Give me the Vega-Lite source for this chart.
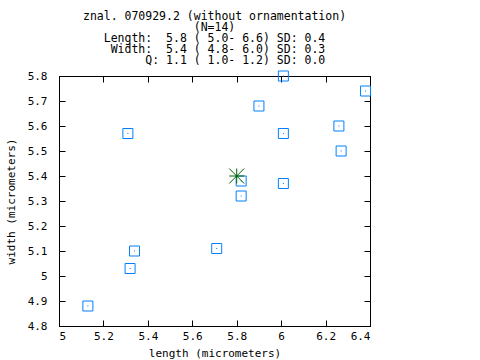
{
  "$schema": "https://vega.github.io/schema/vega-lite/v6.json",
  "width": 311,
  "height": 250,
  "autosize": {"type": "none"},
  "padding": {"left": 59, "top": 76, "right": 110, "bottom": 34},
  "background": "white",
  "title": {
    "text": [
      "znal. 070929.2 (without ornamentation)",
      "(N=14)",
      "Length:\u00a0\u00a05.8\u00a0(\u00a05.0-\u00a06.6)\u00a0SD:\u00a00.4",
      "\u200b\u00a0Width:\u00a0\u00a05.4\u00a0(\u00a04.8-\u00a06.0)\u00a0SD:\u00a00.3",
      "\u200b\u00a0\u00a0\u00a0\u00a0\u00a0\u00a0Q:\u00a01.1\u00a0(\u00a01.0-\u00a01.2)\u00a0SD:\u00a00.0"
    ],
    "font": "DejaVu Sans Mono",
    "fontSize": 11.5,
    "fontWeight": "normal",
    "lineHeight": 11,
    "anchor": "middle",
    "color": "black",
    "offset": 3
  },
  "config": {
    "view": {"stroke": "black", "strokeWidth": 1},
    "axis": {
      "labelFont": "DejaVu Sans Mono",
      "labelFontSize": 11,
      "labelColor": "black",
      "titleFont": "DejaVu Sans Mono",
      "titleFontSize": 11,
      "titleFontWeight": "normal",
      "titleColor": "black",
      "domainColor": "black",
      "tickColor": "black",
      "grid": false,
      "tickSize": -6,
      "format": "~g"
    }
  },
  "datasets": {
    "pts": [
      {"length": 6.01, "width": 5.80},
      {"length": 6.38, "width": 5.74},
      {"length": 5.90, "width": 5.68},
      {"length": 5.31, "width": 5.57},
      {"length": 6.01, "width": 5.57},
      {"length": 6.26, "width": 5.60},
      {"length": 6.27, "width": 5.50},
      {"length": 5.82, "width": 5.38},
      {"length": 6.01, "width": 5.37},
      {"length": 5.82, "width": 5.32},
      {"length": 5.34, "width": 5.10},
      {"length": 5.32, "width": 5.03},
      {"length": 5.71, "width": 5.11},
      {"length": 5.13, "width": 4.88}
    ],
    "mean": [{"length": 5.8, "width": 5.4}]
  },
  "layer": [
    {
      "data": {"name": "pts"},
      "mark": {"type": "point", "shape": "square", "size": 100, "filled": false, "stroke": "#0080ff", "strokeWidth": 1, "opacity": 1},
      "encoding": {
        "x": {"field": "length", "type": "quantitative", "scale": {"domain": [5, 6.4], "nice": false, "zero": false},
              "axis": {"title": "length (micrometers)", "values": [5, 5.2, 5.4, 5.6, 5.8, 6, 6.2, 6.4], "labelPadding": 10, "titlePadding": 6}},
        "y": {"field": "width", "type": "quantitative", "scale": {"domain": [4.8, 5.8], "nice": false, "zero": false},
              "axis": {"title": "width (micrometers)", "values": [4.8, 4.9, 5, 5.1, 5.2, 5.3, 5.4, 5.5, 5.6, 5.7, 5.8], "labelPadding": 18, "titlePadding": 11}}
      }
    },
    {
      "data": {"name": "pts"},
      "mark": {"type": "point", "shape": "square", "size": 1, "filled": true, "color": "#0080ff", "opacity": 1},
      "encoding": {
        "x": {"field": "length", "type": "quantitative", "axis": null},
        "y": {"field": "width", "type": "quantitative", "axis": null}
      }
    },
    {
      "data": {"name": "mean"},
      "mark": {"type": "point", "shape": "M-1,0L1,0M0,-1L0,1M-1,-1L1,1M-1,1L1,-1", "size": 225, "filled": false, "stroke": "#006400", "strokeWidth": 1, "opacity": 1},
      "encoding": {
        "x": {"field": "length", "type": "quantitative", "axis": null},
        "y": {"field": "width", "type": "quantitative", "axis": null}
      }
    },
    {
      "data": {"name": "mean"},
      "mark": {"type": "point", "shape": "circle", "size": 5, "filled": true, "color": "#006400", "opacity": 1},
      "encoding": {
        "x": {"field": "length", "type": "quantitative", "axis": {"orient": "top", "labels": false, "title": null, "values": [5, 5.2, 5.4, 5.6, 5.8, 6, 6.2, 6.4]}},
        "y": {"field": "width", "type": "quantitative", "axis": {"orient": "right", "labels": false, "title": null, "values": [4.8, 4.9, 5, 5.1, 5.2, 5.3, 5.4, 5.5, 5.6, 5.7, 5.8]}}
      }
    }
  ],
  "resolve": {"axis": {"x": "independent", "y": "independent"}}
}
